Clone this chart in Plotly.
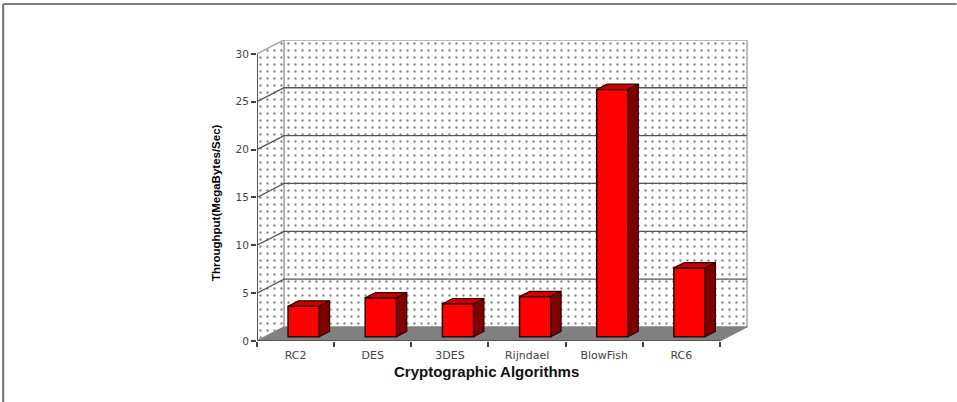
import plotly.graph_objects as go

categories = ["RC2", "DES", "3DES", "Rijndael", "BlowFish", "RC6"]
throughput = [3.2, 4.07, 3.45, 4.2, 25.84, 7.2]
y_ticks = [0, 5, 10, 15, 20, 25, 30]

# oblique 3D look: one unit of depth moves a point this far in data units
DX, DY = 0.35, 1.46
FRONT, BACK = 0.30, 0.68
BAR_W = 0.405
N = len(categories)
TOP = y_ticks[-1]
GRID = "#555555"
WALL = "#a8a8a8"
FONT = "Liberation Sans"

def poly(xs, ys, **kw):
    return go.Scatter(x=xs, y=ys, mode="lines", hoverinfo="skip", showlegend=False, **kw)

dots = dict(shape=".", size=7, solidity=0.09, fgcolor="#111111", bgcolor="white")
fig = go.Figure()
# back wall and side wall
fig.add_trace(poly([DX, N + DX, N + DX, DX, DX], [DY, DY, TOP + DY, TOP + DY, DY],
                   fill="toself", fillpattern=dots, fillcolor="white",
                   line=dict(color=WALL, width=1.5)))
fig.add_trace(poly([0, DX, DX, 0, 0], [0, DY, TOP + DY, TOP, 0],
                   fill="toself", fillpattern=dots, fillcolor="white",
                   line=dict(color=WALL, width=1.5)))
# floor
fig.add_trace(poly([0, N, N + DX, DX, 0], [0, 0, DY, DY, 0], fill="toself",
                   fillcolor="#808080", line=dict(color="#808080", width=1)))
# gridlines on both walls
for t in y_ticks[1:-1]:
    fig.add_trace(poly([0, DX, N + DX], [t, t + DY, t + DY], line=dict(color=GRID, width=1.3)))
# axis lines
fig.add_trace(poly([0, 0, N], [TOP, 0, 0], line=dict(color="#555555", width=2)))

# bars on an overlaid subplot so they sit above the walls
centers = [i + 0.5 + FRONT * DX for i in range(N)]
base = FRONT * DY
ddx, ddy = (BACK - FRONT) * DX, (BACK - FRONT) * DY
edge = dict(color="#300000", width=1.2)
fig.add_trace(go.Bar(x=centers, y=throughput, base=base, width=BAR_W, xaxis="x2", yaxis="y2",
                     marker=dict(color="#ff0000", line=dict(color="#300000", width=1.5)),
                     showlegend=False, hovertext=categories))
for c, v in zip(centers, throughput):
    l, r = c - BAR_W / 2, c + BAR_W / 2
    t = base + v
    fig.add_trace(poly([r, r + ddx, r + ddx, r, r], [base, base + ddy, t + ddy, t, base],
                       fill="toself", fillcolor="#800000", line=edge, xaxis="x2", yaxis="y2"))
    fig.add_trace(poly([l, r, r + ddx, l + ddx, l], [t, t, t + ddy, t + ddy, t],
                       fill="toself", fillcolor="#cc0000", line=edge, xaxis="x2", yaxis="y2"))

x_range = [0, 6.363]
y_range = [0, 31.45]
x_tick_font = dict(family="DejaVu Sans", size=11, color="#444444")
y_tick_font = dict(family="DejaVu Sans", size=10.5, color="#444444")
fig.update_layout(
    width=957, height=402, autosize=False,
    margin=dict(l=257, r=209, t=40, b=61),
    paper_bgcolor="white", plot_bgcolor="white", showlegend=False,
    xaxis=dict(range=x_range, showgrid=False, zeroline=False, showline=False,
               tickmode="array", tickvals=[i + 0.5 for i in range(N)], ticktext=categories,
               ticks="", tickfont=x_tick_font, ticklabelstandoff=6,
               minor=dict(tickmode="array", tickvals=list(range(N + 1)), ticks="outside",
                          ticklen=5, tickcolor="#444444", tickwidth=1.5, showgrid=False)),
    yaxis=dict(range=y_range, showgrid=False, zeroline=False, showline=False,
               tickmode="array", tickvals=y_ticks, ticks="outside", ticklen=5,
               tickcolor="#444444", tickwidth=1.5, tickfont=y_tick_font),
    xaxis2=dict(range=x_range, overlaying="x", visible=False),
    yaxis2=dict(range=y_range, overlaying="y", visible=False),
    annotations=[
        dict(text="<b>Cryptographic Algorithms</b>", xref="x", yref="paper", x=2.98, y=-0.1,
             yanchor="middle", showarrow=False, font=dict(family=FONT, size=15, color="#111111")),
        dict(text="<b>Throughput(MegaBytes/Sec)</b>", xref="paper", yref="y", x=-0.1, y=14.5,
             textangle=-90, showarrow=False, font=dict(family=FONT, size=11.5, color="#000000")),
    ],
    shapes=[
        dict(type="line", xref="paper", yref="paper", x0=-0.517, x1=1.425, y0=1.12, y1=1.12,
             line=dict(color="#808080", width=2)),
        dict(type="line", xref="paper", yref="paper", x0=-0.517, x1=-0.517, y0=1.12, y1=-0.205,
             line=dict(color="#707070", width=2)),
    ],
)
fig.write_html("out.html", config=dict(displayModeBar=False),
               post_script="document.body.style.margin='0';document.documentElement.style.overflow='hidden';")
